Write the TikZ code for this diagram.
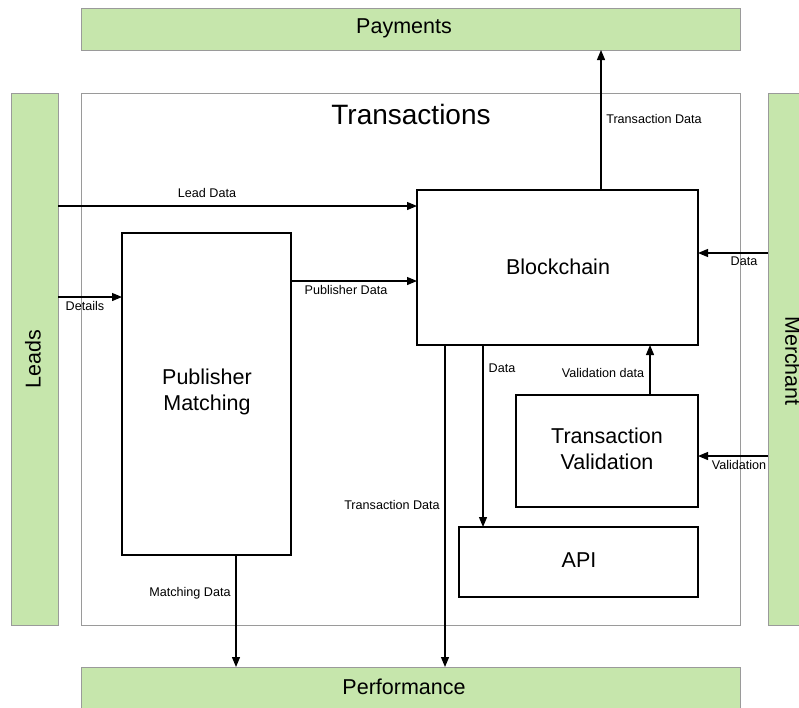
\documentclass[tikz,border=0pt]{standalone}
\usepackage{fontspec}
\setmainfont{Liberation Sans}
\usetikzlibrary{arrows.meta}
\definecolor{panelgreen}{HTML}{C6E6AC}
\definecolor{panelborder}{HTML}{9A9A9A}
\tikzset{
  panel/.style={draw=panelborder, fill=panelgreen, line width=0.9pt, inner sep=0pt},
  frame/.style={draw=panelborder, line width=0.9pt},
  block/.style={draw=black, line width=1.2pt, fill=white, inner sep=0pt},
  flow/.style={-{Triangle[length=10pt,width=8pt]}, line width=1.2pt},
  lbl/.style={font=\fontsize{12.6}{15}\selectfont, inner sep=1pt},
  bigtxt/.style={font=\fontsize{21.5}{26.5}\selectfont, align=center},
  paneltxt/.style={font=\fontsize{21.5}{26}\selectfont},
}
\begin{document}
\begin{tikzpicture}[x=1pt,y=-1pt]
\useasboundingbox (0,0) rectangle (799,707);
\begin{scope}
\clip (0,0) rectangle (799,707);
% outer panels
\draw[panel] (81,8) rectangle (740,50);
\node[paneltxt] (pay) at (404,28) {Payments};
\coordinate (payB) at (601,50);
\draw[panel] (81,667) rectangle (740,715);
\node[paneltxt] (perf) at (404,687) {Performance};
\draw[panel] (11,93) rectangle (58,625);
\node[paneltxt, rotate=90] (leads) at (33,359) {Leads};
\draw[panel] (768,93) rectangle (812,625);
\node[paneltxt, rotate=-90] (merch) at (793,361) {Merchant};
% transactions frame
\draw[frame] (81,93) rectangle (740,625);
\node[font=\fontsize{28}{32}\selectfont] (ttl) at (411,114) {Transactions};
% inner blocks
\draw[block] (417,190) rectangle (698,345);
\node[bigtxt] (bc) at (558,267) {Blockchain};
\draw[block] (122,233) rectangle (291,555);
\node[bigtxt] (pm) at (207,392) {Publisher\\Matching};
\draw[block] (516,395) rectangle (698,507);
\node[bigtxt] (tv) at (607,449) {Transaction\\Validation};
\draw[block] (459,527) rectangle (698,597);
\node[bigtxt] (api) at (579,560) {API};
% connector end points on the panel and block edges
\coordinate (ldS) at (58,206);  \coordinate (ldE) at (417,206);
\coordinate (dtS) at (58,297);  \coordinate (dtE) at (122,297);
\coordinate (pdS) at (291,281); \coordinate (pdE) at (417,281);
\coordinate (tdS) at (601,190);
\coordinate (mdS) at (768,253); \coordinate (mdE) at (698,253);
\coordinate (vS) at (768,456);  \coordinate (vE) at (698,456);
\coordinate (vdS) at (650,395); \coordinate (vdE) at (650,345);
\coordinate (daS) at (483,345); \coordinate (daE) at (483,527);
\coordinate (tpS) at (445,345); \coordinate (tpE) at (445,667);
\coordinate (mtS) at (236,555); \coordinate (mtE) at (236,667);
% connectors
\draw[flow] (ldS) -- (ldE);
\draw[flow] (dtS) -- (dtE);
\draw[flow] (pdS) -- (pdE);
\draw[flow] (tdS) -- (payB);
\draw[flow] (mdS) -- (mdE);
\draw[flow] (vS) -- (vE);
\draw[flow] (vdS) -- (vdE);
\draw[flow] (daS) -- (daE);
\draw[flow] (tpS) -- (tpE);
\draw[flow] (mtS) -- (mtE);
% connector labels
\node[lbl] (l1) at (207,193) {Lead Data};
\node[lbl] (l2) at (85,306) {Details};
\node[lbl] (l3) at (346,290) {Publisher Data};
\node[lbl] (l4) at (654,119) {Transaction Data};
\node[lbl] (l5) at (744,261) {Data};
\node[lbl] (l6) at (739,465) {Validation};
\node[lbl] (l7) at (603,373) {Validation data};
\node[lbl] (l8) at (502,368) {Data};
\node[lbl] (l9) at (392,505) {Transaction Data};
\node[lbl] (l10) at (190,593) {Matching Data};
\end{scope}
\end{tikzpicture}
\end{document}
